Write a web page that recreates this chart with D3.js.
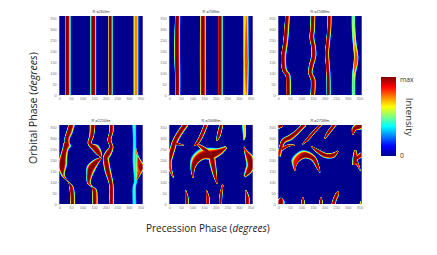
<!DOCTYPE html>
<html>
<head>
<meta charset="utf-8">
<script src="https://cdn.jsdelivr.net/npm/d3@7"></script>
<style>
  html, body { margin: 0; background: #fff; }
  svg { display: block; }
  text { font-family: "Open Sans", sans-serif; }
  .axis text { font-size: 3.8px; fill: #777; font-family: "Liberation Sans", sans-serif; }
  .axis line, .axis path { stroke: #888; stroke-width: 0.3; }
</style>
</head>
<body>
<svg id="chart" width="437" height="255"></svg>
<script>
// each ridge row: [precession phase, orbital phase, left spread, right spread, peak intensity]
const titles = ['R =260fm', 'R =748fm', 'R =1568fm', 'R =2250fm', 'R =2668fm', 'R =2758fm'];
const phaseTicks = d3.range(0, 351, 50);
const minorTicks = d3.range(0, 361, 10);

const ridges260 = [
  [[31, -10, 4, 15, 1], [31, 370, 4, 15, 1]],
  [[147, -10, 11, 10, 1], [147, 370, 11, 10, 1]],
  [[217, -10, 4, 11, 1], [217, 370, 4, 11, 1]],
  [[332, -10, 10, 8, 0.76], [332, 370, 10, 8, 0.76]]
];
const ridges748 = [
  [[32, -10, 5, 13, 1], [32, 90, 6, 13, 1], [31, 180, 8, 13, 1], [31, 280, 7, 13, 1], [32, 370, 5, 13, 1]],
  [[144, -10, 9, 11, 1], [144, 180, 10, 11, 1], [144, 370, 9, 11, 1]],
  [[216, -10, 5, 12, 1], [216, 370, 5, 12, 1]],
  [[333, -10, 12, 7, 0.74], [334, 150, 12, 7, 0.82], [333, 370, 12, 7, 0.74]]
];
const ridges1568 = [
  [[39, -10, 4, 13, 1], [39, 60, 4, 13, 1], [37, 90, 5, 12, 1], [24, 110, 5, 12, 1], [17, 150, 4, 14, 1],
    [17, 180, 4, 14, 1], [22, 210, 4, 13, 1], [27, 250, 4, 13, 1], [31, 300, 4, 13, 1], [36, 370, 4, 12, 1]],
  [[146, -10, 7, 10, 1], [148, 70, 7, 10, 1], [137, 100, 7, 9, 1], [140, 130, 7, 10, 1], [152, 180, 8, 10, 1],
    [150, 220, 7, 10, 1], [143, 262, 7, 10, 1], [146, 300, 7, 10, 1], [148, 370, 7, 10, 1]],
  [[214, -10, 4, 10, 1], [213, 90, 4, 10, 1], [210, 140, 4, 10, 1], [207, 190, 4, 10, 1], [212, 250, 4, 10, 1],
    [217, 310, 4, 10, 1], [218, 370, 4, 10, 1]],
  [[325, -10, 7, 7, 0.55], [326, 90, 7, 7, 0.6], [334, 145, 8, 8, 0.85], [336, 175, 8, 8, 0.85], [330, 230, 7, 7, 0.7],
    [325, 300, 7, 7, 0.6], [324, 370, 7, 7, 0.55]]
];
const ridges2250 = [
  [[55, -10, 6, 11, 1], [54, 40, 6, 11, 1], [49, 79, 5, 9, 1], [39, 100, 1, 2, 0.55], [17, 130, 6, 6, 0.8],
    [10, 160, 10, 16, 1], [12, 180, 16, 18, 1], [16, 223, 9, 16, 1], [24, 254, 8, 14, 1], [26, 270, 8, 22, 1],
    [30, 282, 6, 12, 1], [31, 300, 7, 12, 1], [40, 330, 7, 15, 1], [51, 370, 7, 15, 1]],
  [[150, -10, 6, 13, 1], [150, 30, 6, 13, 1], [148, 64, 5, 11, 1], [141, 79, 2, 3, 0.6], [127, 94, 5, 7, 0.9],
    [128, 132, 9, 13, 1], [136, 162, 16, 17, 1], [161, 193, 11, 10, 1], [183, 211, 1, 1, 0.5]],
  [[147, 365, 7, 13, 1], [142, 314, 7, 10, 1], [132, 276, 7, 8, 1], [150, 254, 18, 9, 1], [168, 231, 14, 7, 1], [183, 211, 1, 1, 0.5]],
  [[222, -10, 7, 11, 1], [223, 86, 6, 9, 1], [209, 147, 10, 12, 1], [201, 193, 10, 12, 1], [198, 211, 8, 14, 1],
    [209, 231, 10, 14, 1], [223, 261, 6, 9, 1], [215, 292, 6, 8, 1], [223, 330, 6, 9, 1], [223, 370, 6, 9, 1]],
  [[324, -10, 7, 9, 0.42], [323, 80, 6, 8, 0.45], [328, 100, 6, 8, 0.42], [324, 200, 7, 7, 0.45], [324, 290, 6, 8, 0.42], [322, 370, 7, 9, 0.45]],
  [[334, 110, 1, 3, 0.4], [349, 147, 18, 7, 0.85], [357, 170, 24, 11, 1], [349, 185, 18, 9, 0.9], [338, 216, 9, 5, 0.55], [330, 254, 3, 3, 0.4]]
];
const ridges2668 = [
  [[17, 121, 1, 2, 0.7], [6, 150, 4, 6, 0.9], [-2, 190, 8, 10, 1], [5, 220, 10, 10, 1], [15, 255, 10, 10, 1],
    [22, 285, 8, 12, 1], [40, 320, 8, 12, 1], [70, 365, 8, 12, 1]],
  [[30, 275, 5, 5, 1], [62, 268, 1, 1, 0.6]],
  [[107, 268, 1, 1, 0.8], [118, 275, 5, 5, 1], [137, 310, 6, 8, 1], [158, 365, 6, 8, 1]],
  [[103, 118, 1, 2, 0.8], [103, 160, 10, 6, 1], [118, 193, 24, 8, 1], [145, 215, 30, 10, 1], [183, 220, 30, 14, 1],
    [219, 240, 13, 12, 1], [245, 258, 5, 5, 0.8]],
  [[125, 270, 4, 4, 0.9], [154, 248, 8, 10, 1], [180, 225, 10, 14, 1]],
  [[206, 92, 1, 1, 0.7], [198, 132, 8, 6, 1], [190, 178, 12, 10, 1], [183, 215, 12, 12, 1]],
  [[205, 288, 1, 2, 0.8], [212, 310, 6, 7, 1], [226, 370, 6, 7, 1]],
  [[322, 290, 1, 1, 0.3], [325, 310, 6, 5, 0.6], [322, 370, 7, 7, 0.7]],
  [[325, 125, 5, 5, 0.5], [345, 150, 16, 10, 1], [352, 175, 16, 16, 1], [345, 210, 14, 16, 1], [330, 240, 6, 6, 0.9], [323, 262, 2, 1, 0.4]],
  [[220, -10, 4, 6, 1], [222, 40, 4, 6, 1], [230, 87, 2, 3, 0.9]],
  [[165, -10, 6, 7, 1], [165, 30, 5, 7, 1], [160, 60, 1, 3, 0.8]],
  [[75, -10, 5, 7, 1], [74, 30, 5, 7, 1], [70, 60, 1, 3, 0.8]],
  [[335, -10, 7, 9, 1], [335, 30, 6, 9, 1], [330, 62, 1, 3, 0.6]]
];
const ridges2758 = [
  [[-5, 352, 8, 10, 1], [18, 358, 5, 5, 1]],
  [[0, 220, 5, 10, 0.9], [10, 260, 5, 8, 1], [22, 288, 8, 10, 1], [50, 305, 8, 12, 1], [80, 330, 6, 10, 1], [112, 365, 6, 10, 1]],
  [[15, 250, 6, 6, 1], [40, 265, 4, 4, 1], [72, 268, 1, 1, 0.8]],
  [[105, 272, 1, 1, 0.7], [125, 295, 4, 6, 1], [150, 325, 4, 6, 1], [185, 365, 4, 6, 1]],
  [[200, 298, 2, 2, 0.8], [215, 325, 5, 7, 1], [245, 365, 5, 7, 1]],
  [[144, 262, 1, 1, 0.7], [170, 243, 5, 8, 1], [205, 222, 8, 10, 1], [238, 224, 8, 10, 1], [258, 242, 1, 2, 0.7]],
  [[72, 150, 1, 1, 0.4], [80, 190, 22, 4, 0.9], [112, 220, 20, 10, 1], [151, 208, 10, 10, 1], [173, 162, 5, 5, 1], [180, 144, 1, 1, 0.7]],
  [[322, 315, 2, 2, 0.6], [328, 340, 10, 7, 1], [345, 352, 14, 12, 1], [365, 355, 10, 10, 1]],
  [[330, 178, 10, 4, 0.9], [332, 205, 10, 10, 1], [332, 245, 4, 4, 0.8]],
  [[335, 205, 5, 5, 1], [360, 225, 10, 10, 1]],
  [[355, 150, 1, 1, 0.5], [345, 175, 4, 4, 0.9], [336, 195, 6, 6, 1]],
  [[8, -10, 12, 14, 1], [10, 15, 12, 14, 1], [12, 28, 2, 2, 0.5]],
  [[106, -10, 6, 6, 1], [106, 15, 5, 6, 1], [106, 30, 1, 1, 0.7]],
  [[184, -10, 6, 6, 1], [184, 15, 5, 6, 1], [184, 30, 1, 1, 0.7]],
  [[235, -10, 6, 8, 1], [242, 18, 6, 8, 1], [254, 48, 5, 7, 1], [258, 58, 1, 1, 0.6]],
  [[355, -5, 4, 4, 0.8], [355, 12, 1, 1, 0.5]]
];
const panelRidges = [ridges260, ridges748, ridges1568, ridges2250, ridges2668, ridges2758];

const panelLeft = [59.3, 169.3, 278.3];
const panelTop = [16, 125];
const panelW = 83.4;
const panelH = 79;
const plateau = 0.38;
const spreadScale = 1.35;

const jet = d3.scaleLinear()
  .domain([0, 0.125, 0.375, 0.625, 0.875, 1])
  .range(['#00008f', '#0000ff', '#00ffff', '#ffff00', '#ff0000', '#800000']);

const levels = d3.range(1, 17).map((i) => i / 16);
const svg = d3.select('#chart');
const defs = svg.append('defs');
defs.append('filter').attr('id', 'soft')
  .attr('x', '-5%').attr('y', '-5%').attr('width', '110%').attr('height', '110%')
  .append('feGaussianBlur').attr('stdDeviation', 0.35);

const edge = d3.line().curve(d3.curveCatmullRom.alpha(0.5));

// ridge outline at one intensity level, pushed out along the normal of the spine
function ridgePath(rows, t, x, y) {
  const pxPerDeg = spreadScale * panelW / 360;
  const pts = rows.map((r) => [x(r[0]), y(r[1])]);
  const left = [], right = [];
  rows.forEach((r, i) => {
    const a = pts[Math.max(i - 1, 0)], b = pts[Math.min(i + 1, pts.length - 1)];
    const len = Math.hypot(b[0] - a[0], b[1] - a[1]) || 1;
    const nx = (b[1] - a[1]) / len, ny = -(b[0] - a[0]) / len;
    const f = t > r[4] ? 0 : plateau + (1 - plateau) * Math.pow(1 - t / r[4], 0.7);
    left.push([pts[i][0] + nx * r[2] * f * pxPerDeg, pts[i][1] + ny * r[2] * f * pxPerDeg]);
    right.push([pts[i][0] - nx * r[3] * f * pxPerDeg, pts[i][1] - ny * r[3] * f * pxPerDeg]);
  });
  return edge(left) + 'L' + edge(right.reverse()).slice(1) + 'Z';
}

panelRidges.forEach((ridges, i) => {
  const left = panelLeft[i % 3], top = panelTop[Math.floor(i / 3)];
  const x = d3.scaleLinear().domain([0, 360]).range([left, left + panelW]);
  const y = d3.scaleLinear().domain([0, 360]).range([top + panelH, top]);

  defs.append('clipPath').attr('id', `clip${i}`).append('rect')
    .attr('x', left).attr('y', top).attr('width', panelW).attr('height', panelH);

  const outer = svg.append('g').attr('clip-path', `url(#clip${i})`);
  const g = outer.append('g').attr('filter', 'url(#soft)');
  g.append('rect').attr('x', left - 3).attr('y', top - 3)
    .attr('width', panelW + 6).attr('height', panelH + 6).attr('fill', jet(0));

  levels.forEach((t) => {
    ridges.filter((rows) => d3.max(rows, (r) => r[4]) >= t - 0.03).forEach((rows) => {
      g.append('path').attr('d', ridgePath(rows, t, x, y)).attr('fill', jet(t));
    });
  });

  const bottomAxis = svg.append('g').attr('class', 'axis')
    .attr('transform', `translate(0,${top + panelH})`)
    .call(d3.axisBottom(x).tickValues(phaseTicks).tickSize(1).tickPadding(1.6));
  bottomAxis.select('.domain').remove();
  const leftAxis = svg.append('g').attr('class', 'axis')
    .attr('transform', `translate(${left},0)`)
    .call(d3.axisLeft(y).tickValues(phaseTicks).tickSize(1).tickPadding(1.6));
  leftAxis.select('.domain').remove();
  svg.append('g').attr('class', 'axis')
    .attr('transform', `translate(${left},0)`)
    .call(d3.axisLeft(y).tickValues(minorTicks).tickSize(0.6).tickFormat(''))
    .select('.domain').remove();

  svg.append('text').attr('x', left + panelW / 2).attr('y', top - 3)
    .attr('text-anchor', 'middle').attr('font-size', 3.9).attr('fill', '#444')
    .style('font-family', '"Liberation Sans", sans-serif')
    .text(titles[i]);
});

// axis names
const yName = svg.append('text')
  .attr('transform', 'translate(37,164) rotate(-90)')
  .attr('font-size', 10.6).attr('fill', '#222');
yName.append('tspan').text('Orbital Phase  (');
yName.append('tspan').attr('font-style', 'italic').text('degrees');
yName.append('tspan').text(')');

const xName = svg.append('text')
  .attr('x', 146).attr('y', 232)
  .attr('font-size', 10).attr('fill', '#222');
xName.append('tspan').text('Precession Phase (');
xName.append('tspan').attr('font-style', 'italic').text('degrees');
xName.append('tspan').text(')');

// colour bar
const barX = 381, barW = 15, barTop = 77, barH = 79;
const barScale = d3.scaleLinear().domain([0, 1]).range([barTop + barH, barTop]);
const grad = defs.append('linearGradient').attr('id', 'jetBar')
  .attr('x1', 0).attr('y1', 1).attr('x2', 0).attr('y2', 0);
jet.domain().forEach((d) => {
  grad.append('stop').attr('offset', d).attr('stop-color', jet(d));
});
svg.append('rect').attr('x', barX).attr('y', barScale(1))
  .attr('width', barW).attr('height', barH).attr('fill', 'url(#jetBar)');

svg.append('text').attr('x', 400).attr('y', 82).attr('font-size', 6.8).attr('fill', '#333').text('max');
svg.append('text').attr('x', 400).attr('y', 158).attr('font-size', 6.8).attr('fill', '#333').text('0');
svg.append('text').attr('transform', 'translate(406,117) rotate(90)')
  .attr('text-anchor', 'middle').attr('font-size', 9.6).attr('fill', '#333').text('Intensity');
</script>
</body>
</html>
